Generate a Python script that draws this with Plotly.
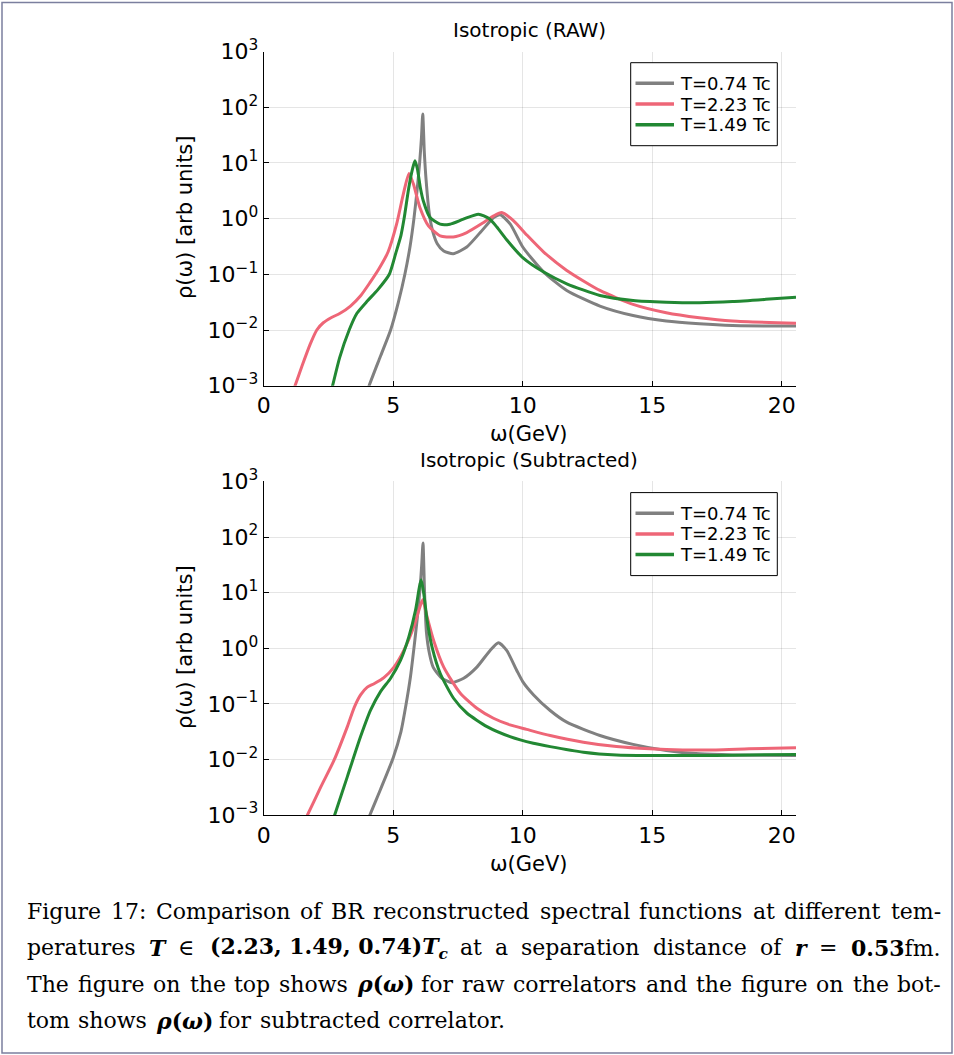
import re
import numpy as np
import plotly.graph_objects as go

W, H = 954, 1055

# ---------------- data (omega in GeV, log10 of rho) ----------------
labels = ["T=0.74 Tc", "T=2.23 Tc", "T=1.49 Tc"]
colors = ["#808080", "#EE6677", "#228833"]

# Raw correlators (top panel)
omega_raw_074 = [3.90, 4.07, 4.50, 4.90, 5.20, 5.45, 5.65, 5.80, 5.92, 6.02, 6.09, 6.14, 6.20, 6.27,
                 6.39, 6.52, 6.70, 6.95, 7.32, 7.84, 8.36, 8.88, 9.13, 9.52, 10.00, 10.81, 11.70,
                 12.98, 14.26, 15.54, 16.82, 18.10, 20.55]
lrho_raw_074 = [-3.24, -3.00, -2.48, -2.00, -1.50, -1.00, -0.50, 0.00, 0.50, 1.00, 1.45, 1.88, 1.20, 0.69,
                0.10, -0.22, -0.45, -0.58, -0.63, -0.51, -0.25, 0.02, 0.07, -0.10, -0.51, -0.96, -1.29,
                -1.57, -1.74, -1.84, -1.89, -1.92, -1.93]

omega_raw_223 = [1.00, 1.21, 1.50, 1.80, 2.05, 2.30, 2.60, 2.95, 3.35, 3.75, 4.10, 4.45, 4.80, 5.13,
                 5.39, 5.61, 5.78, 6.03, 6.36, 6.81, 7.32, 7.84, 8.49, 8.88, 9.19, 9.65, 10.17,
                 10.81, 11.70, 12.98, 14.26, 15.54, 16.82, 18.10, 20.55]
lrho_raw_223 = [-3.24, -3.00, -2.62, -2.25, -2.00, -1.87, -1.78, -1.70, -1.57, -1.38, -1.15, -0.90, -0.60, -0.10,
                0.44, 0.81, 0.62, 0.20, -0.13, -0.31, -0.33, -0.25, -0.07, 0.05, 0.11, -0.04, -0.30,
                -0.60, -0.93, -1.29, -1.54, -1.69, -1.78, -1.84, -1.88]

omega_raw_149 = [2.50, 2.66, 2.93, 3.30, 3.60, 4.00, 4.40, 4.85, 5.10, 5.30, 5.42, 5.60, 5.75, 5.84,
                 5.93, 6.05, 6.16, 6.42, 6.81, 7.19, 7.71, 8.29, 8.70, 9.00, 9.38, 10.00, 10.81,
                 11.70, 12.98, 14.26, 15.54, 16.82, 18.10, 19.38, 20.55]
lrho_raw_149 = [-3.30, -3.00, -2.50, -2.00, -1.70, -1.48, -1.28, -1.00, -0.62, -0.30, 0.00, 0.55, 0.90, 1.04,
                0.90, 0.55, 0.32, 0.02, -0.10, -0.10, -0.01, 0.08, 0.00, -0.15, -0.38, -0.70, -0.96,
                -1.17, -1.38, -1.47, -1.50, -1.51, -1.49, -1.45, -1.41]

# Subtracted correlators (bottom panel)
omega_sub_074 = [3.90, 4.10, 4.50, 5.00, 5.30, 5.50, 5.67, 5.80, 5.92, 6.03, 6.10, 6.15, 6.21, 6.28,
                 6.40, 6.55, 6.88, 7.27, 7.72, 8.23, 8.74, 9.06, 9.38, 9.77, 10.00, 10.42, 11.06,
                 11.70, 12.98, 14.26, 15.54, 16.82, 18.10, 20.55]
lrho_sub_074 = [-3.25, -3.00, -2.55, -1.97, -1.50, -1.00, -0.50, 0.00, 0.50, 1.04, 1.50, 1.89, 1.00, 0.30,
                -0.10, -0.35, -0.54, -0.62, -0.54, -0.34, -0.04, 0.10, -0.04, -0.40, -0.60, -0.84, -1.12,
                -1.33, -1.57, -1.73, -1.84, -1.90, -1.92, -1.93]

omega_sub_223 = [1.45, 1.69, 2.21, 2.72, 3.23, 3.50, 3.74, 4.00, 4.26, 4.64, 5.03, 5.41, 5.79, 6.05,
                 6.14, 6.31, 6.56, 6.95, 7.59, 8.23, 8.87, 9.51, 10.15, 11.06, 12.34, 13.62, 14.90,
                 16.18, 17.46, 18.74, 20.55]
lrho_sub_223 = [-3.24, -3.00, -2.49, -2.01, -1.41, -1.06, -0.84, -0.70, -0.64, -0.53, -0.34, -0.04, 0.38, 0.77,
                0.87, 0.56, 0.14, -0.34, -0.81, -1.08, -1.26, -1.38, -1.46, -1.57, -1.69, -1.77, -1.81,
                -1.83, -1.83, -1.81, -1.79]

omega_sub_149 = [2.55, 2.74, 3.23, 3.74, 4.13, 4.51, 4.90, 5.28, 5.60, 5.86, 6.01, 6.08, 6.18, 6.31,
                 6.50, 6.82, 7.33, 7.85, 8.62, 9.51, 10.41, 11.06, 12.34, 13.62, 14.90, 16.18, 17.46,
                 18.74, 20.55]
lrho_sub_149 = [-3.27, -3.00, -2.31, -1.59, -1.11, -0.78, -0.54, -0.22, 0.20, 0.68, 1.10, 1.23, 0.98, 0.50,
                0.02, -0.46, -0.90, -1.17, -1.41, -1.59, -1.71, -1.77, -1.87, -1.92, -1.93, -1.93, -1.93,
                -1.92, -1.91]

x_ticks = [0, 5, 10, 15, 20]
y_ticks = [1e-3, 1e-2, 1e-1, 1e0, 1e1, 1e2, 1e3]
y_ticktext = ["10<sup>\u22123</sup>", "10<sup>\u22122</sup>", "10<sup>\u22121</sup>",
              "10<sup>0</sup>", "10<sup>1</sup>", "10<sup>2</sup>", "10<sup>3</sup>"]

titles = ["Isotropic (RAW)", "Isotropic (Subtracted)"]
xlabel = "\u03c9(GeV)"
ylabel = "\u03c1(\u03c9) [arb units]"

RHO = "<b><i>\u03c1</i>(<i>\u03c9</i>)</b>"
caption_lines = [
    ["Figure", "17:", "Comparison", "of", "BR", "reconstructed", "spectral", "functions", "at",
     "different", "tem-"],
    ["peratures", "<b><i>T</i></b>", "\u2208",
     "<b>(2.23, 1.49, 0.74)<i>T</i><sub><i>c</i></sub></b>", "at", "a", "separation", "distance", "of",
     "<b><i>r</i></b>", "=", "<b>0.53</b>fm."],
    ["The", "figure", "on", "the", "top", "shows", RHO, "for", "raw", "correlators", "and", "the",
     "figure", "on", "the", "bot-"],
    ["tom", "shows", RHO, "for", "subtracted", "correlator."],
]
caption_justified = [True, True, True, False]

# ---------------- caption layout helpers (approximate DejaVu Serif advance widths, per em) ----------------
_ADV = {" ": .318, "(": .390, ")": .390, ",": .318, "-": .338, ".": .318, ":": .337, "=": .838,
        "\u2208": .838, "\u03c1": .640, "\u03c9": .870}
for _c in "0123456789":
    _ADV[_c] = .636
_ADV.update(dict(zip("ABCDEFGHIJKLMNOPQRSTUVWXYZ",
                     [.722, .735, .765, .802, .730, .694, .799, .872, .395, .401, .747, .664, 1.024,
                      .875, .820, .673, .820, .753, .685, .667, .843, .722, 1.028, .712, .660, .695])))
_ADV.update(dict(zip("abcdefghijklmnopqrstuvwxyz",
                     [.596, .640, .560, .640, .592, .370, .640, .644, .320, .310, .606, .320, .948,
                      .644, .602, .640, .640, .478, .513, .402, .644, .565, .856, .564, .565, .530])))


def measure(html, size):
    bold, small, w = False, False, 0.0
    for tok in re.split(r"(<[^>]+>)", html):
        if tok.startswith("<"):
            tag = tok.strip("<>/").lower()
            closing = tok.startswith("</")
            if tag == "b":
                bold = not closing
            elif tag in ("sub", "sup"):
                small = not closing
            continue
        for ch in tok:
            cw = _ADV.get(ch, 0.6) * (1.1 if bold else 1.0)
            w += cw * size * (0.7 if small else 1.0)
    return w


# ---------------- figure ----------------
def xp(x):
    return x / W


def yp(y):
    return 1 - y / H


fig = go.Figure()

panels = [
    ("x", "y", [(omega_raw_074, lrho_raw_074), (omega_raw_223, lrho_raw_223), (omega_raw_149, lrho_raw_149)]),
    ("x2", "y2", [(omega_sub_074, lrho_sub_074), (omega_sub_223, lrho_sub_223), (omega_sub_149, lrho_sub_149)]),
]
for xa, ya, series in panels:
    for (om, lr), col, lab in zip(series, colors, labels):
        fig.add_trace(go.Scatter(
            x=om, y=10 ** np.array(lr), mode="lines", name=lab, showlegend=False,
            line=dict(color=col, width=3, shape="spline", smoothing=0.6),
            xaxis=xa, yaxis=ya, hoverinfo="skip"))

tickfont = dict(family="DejaVu Sans", size=22, color="black")
axis_common = dict(showline=True, linecolor="black", linewidth=1.2, ticks="inside", ticklen=5,
                   tickwidth=1, tickcolor="black", showgrid=True, gridcolor="rgba(0,0,0,0.10)",
                   gridwidth=1, zeroline=False, tickfont=tickfont, automargin=False, mirror=False)

x_dom = [xp(263.7), xp(796)]
top_dom = [yp(385.7), yp(51.5)]
bot_dom = [yp(815.0), yp(481.4)]

fig.update_layout(
    width=W, height=H,
    margin=dict(l=0, r=0, t=0, b=0, pad=0),
    paper_bgcolor="white", plot_bgcolor="white",
    showlegend=False,
    xaxis=dict(domain=x_dom, range=[0, 20.55], tickvals=x_ticks, anchor="y", **axis_common),
    yaxis=dict(domain=top_dom, type="log", range=[-3, 3], tickvals=y_ticks, ticktext=y_ticktext,
               anchor="x", **axis_common),
    xaxis2=dict(domain=x_dom, range=[0, 20.55], tickvals=x_ticks, anchor="y2", **axis_common),
    yaxis2=dict(domain=bot_dom, type="log", range=[-3, 3], tickvals=y_ticks, ticktext=y_ticktext,
                anchor="x2", **axis_common),
)

lab_font = dict(family="DejaVu Sans", size=21, color="black")
annotations = []
shapes = []
offsets = [0.0, 429.9]
for i, off in enumerate(offsets):
    annotations.append(dict(text=titles[i], x=xp(529), y=yp(30 + off), xref="paper", yref="paper",
                            xanchor="center", yanchor="middle", showarrow=False,
                            font=dict(family="DejaVu Sans", size=20, color="black")))
    annotations.append(dict(text=xlabel, x=xp(529), y=yp(434 + off), xref="paper", yref="paper",
                            xanchor="center", yanchor="middle", showarrow=False, font=lab_font))
    annotations.append(dict(text=ylabel, x=xp(185), y=yp(217 + off), xref="paper", yref="paper",
                            xanchor="center", yanchor="middle", showarrow=False, textangle=-90,
                            font=lab_font))
    # legend (box, line samples, labels)
    shapes.append(dict(type="rect", xref="paper", yref="paper", x0=xp(630.7), x1=xp(777.3),
                       y0=yp(145.7 + off), y1=yp(62.7 + off), line=dict(color="black", width=1),
                       fillcolor="white", layer="above"))
    for k, (col, lab) in enumerate(zip(colors, labels)):
        yrow = 83.3 + 20.7 * k + off
        shapes.append(dict(type="line", xref="paper", yref="paper", x0=xp(635.5), x1=xp(674),
                           y0=yp(yrow), y1=yp(yrow), line=dict(color=col, width=3.5), layer="above"))
        annotations.append(dict(text=lab, x=xp(677.5), y=yp(yrow), xref="paper", yref="paper",
                                xanchor="left", yanchor="middle", showarrow=False,
                                font=dict(family="DejaVu Sans", size=18, color="black")))

# justified caption
CAP_SIZE = 22
cap_font = dict(family="DejaVu Serif", size=CAP_SIZE, color="black")
cap_left, cap_right = 25.0, 939.0
caption_y = [911, 947.5, 984, 1020.5]
for words, just, yy in zip(caption_lines, caption_justified, caption_y):
    widths = [measure(wd, CAP_SIZE) for wd in words]
    if just:
        gap = (cap_right - cap_left - sum(widths)) / (len(words) - 1)
    else:
        gap = 0.318 * CAP_SIZE * 1.2
    x = cap_left
    for wd, ww in zip(words, widths):
        annotations.append(dict(text=wd, x=xp(x), y=yp(yy), xref="paper", yref="paper",
                                xanchor="left", yanchor="middle", showarrow=False, font=cap_font))
        x += ww + gap

# outer frame
shapes.append(dict(type="rect", xref="paper", yref="paper", x0=xp(2), x1=xp(952), y0=yp(1053), y1=yp(2.5),
                   line=dict(color="#7b7f9e", width=1.5), layer="above"))

fig.update_layout(annotations=annotations, shapes=shapes)
fig.write_html("out.html")
